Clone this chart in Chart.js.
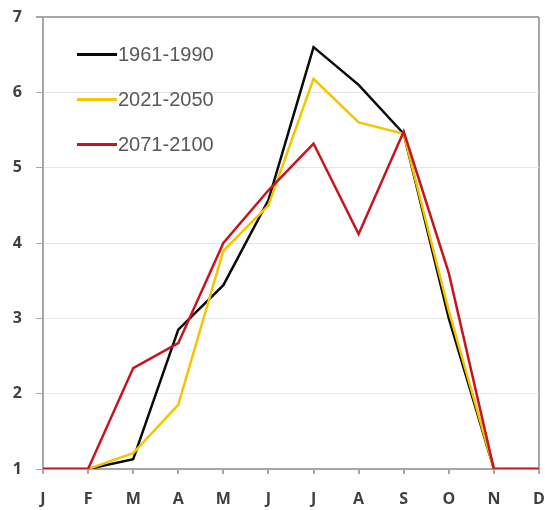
<!DOCTYPE html>
<html lang="en">
<head>
    <meta charset="UTF-8">
    <title>Monthly curves</title>
    <script src="https://cdn.jsdelivr.net/npm/chart.js"></script>
    <style>
        body {
            margin: 0;
            background: #fff;
        }
        .wrap {
            position: relative;
            width: 545px;
            height: 510px;
        }
        .legend {
            position: absolute;
            left: 77px;
            top: 40px;
            font-family: 'Liberation Sans', Arial, sans-serif;
            font-size: 20px;
            color: #595959;
        }
        .legend div {
            height: 45px;
            line-height: 28px;
            white-space: nowrap;
        }
        .legend span.swatch {
            display: inline-block;
            width: 40px;
            height: 3px;
            vertical-align: middle;
            margin-right: 1px;
            position: relative;
            top: -1px;
        }
    </style>
</head>
<body>
    <div class="wrap">
        <canvas id="chart" width="545" height="510"></canvas>
        <div class="legend" id="legend"></div>
    </div>

    <script>
        const months = ['J', 'F', 'M', 'A', 'M', 'J', 'J', 'A', 'S', 'O', 'N', 'D'];
        const seriesNames = ['1961-1990', '2021-2050', '2071-2100'];
        const seriesColors = ['#0a0a0a', '#f5c400', '#c8141e'];

        const p1961 = [1, 1, 1.13, 2.85, 3.44, 4.57, 6.6, 6.1, 5.45, 3.0, 1, 1];
        const p2021 = [1, 1, 1.21, 1.85, 3.9, 4.5, 6.18, 5.6, 5.45, 3.1, 1, 1];
        const p2071 = [1, 1, 2.34, 2.67, 4.0, 4.7, 5.32, 4.12, 5.48, 3.6, 1, 1];

        const values = [p1961, p2021, p2071];

        // red drawn on top, then yellow, then black
        const datasets = values.map((v, i) => ({
            label: seriesNames[i],
            data: v,
            borderColor: seriesColors[i],
            backgroundColor: seriesColors[i],
            borderWidth: 2.5,
            pointRadius: 0,
            tension: 0,
            order: 3 - i
        }));

        // legend inside the plot area
        const legendEl = document.getElementById('legend');
        seriesNames.forEach((name, i) => {
            const row = document.createElement('div');
            row.innerHTML = '<span class="swatch" style="background:' + seriesColors[i] + '"></span>' + name;
            legendEl.appendChild(row);
        });

        const tickFont = { family: "'Open Sans', Arial, sans-serif", size: 16, weight: 'bold' };

        new Chart(document.getElementById('chart'), {
            type: 'line',
            data: { labels: months, datasets: datasets },
            options: {
                responsive: false,
                animation: false,
                layout: { padding: { top: 17, right: 6, left: 0, bottom: 0 } },
                plugins: {
                    legend: { display: false },
                    tooltip: { enabled: false }
                },
                scales: {
                    x: {
                        offset: false,
                        afterFit: (s) => {
                            s.height = 41;
                            s.paddingLeft = 0;
                            s.paddingRight = 0;
                        },
                        border: { color: '#a6a6a6', width: 2 },
                        grid: {
                            color: (ctx) => ctx.index === months.length - 1 ? '#a6a6a6' : 'rgba(0,0,0,0)',
                            lineWidth: 2,
                            tickColor: '#a6a6a6',
                            tickLength: 5
                        },
                        ticks: {
                            font: tickFont,
                            color: '#404040',
                            padding: 16,
                            autoSkip: false,
                            maxRotation: 0
                        }
                    },
                    y: {
                        min: 1,
                        max: 7,
                        afterFit: (s) => {
                            s.width = 43;
                            s.paddingTop = 0;
                            s.paddingBottom = 0;
                        },
                        border: { color: '#a6a6a6', width: 2 },
                        grid: {
                            color: (ctx) => ctx.tick && ctx.tick.value === 7 ? '#a6a6a6' : '#e6e6e6',
                            lineWidth: (ctx) => ctx.tick && ctx.tick.value === 7 ? 2 : 1,
                            tickColor: '#a6a6a6',
                            tickLength: 7
                        },
                        ticks: {
                            stepSize: 1,
                            font: tickFont,
                            color: '#404040',
                            padding: 14
                        }
                    }
                }
            }
        });
    </script>
</body>
</html>
